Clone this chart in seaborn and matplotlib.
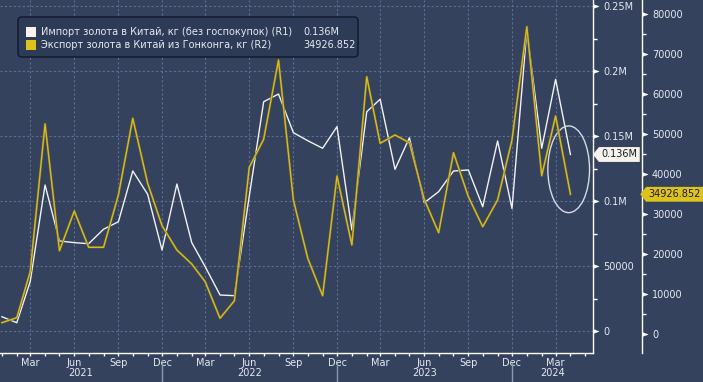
import pandas as pd
import numpy as np
import matplotlib
matplotlib.use("Agg")
import matplotlib.pyplot as plt
import matplotlib.dates as mdates
import matplotlib.ticker as mticker
from matplotlib.patches import Ellipse, FancyBboxPatch, Rectangle
from matplotlib.path import Path
from matplotlib.transforms import IdentityTransform, blended_transform_factory
import matplotlib.patheffects as pe
import seaborn as sns

bg_color = '#34425e'
grid_color = '#5b6e95'
text_color = '#e6e9ef'
white_line = '#f2f2f2'
gold_line = '#d6bc22'

# monthly data, Jan 2021 .. Apr 2024
months = pd.date_range('2021-01-01', '2024-04-01', freq='MS')
imports_kg = [11200, 6600, 38200, 112500, 69500, 68200, 67400, 78500, 84300, 123300, 105400, 62500,
              113300, 68200, 49700, 27900, 27400, 104000, 176600, 182500, 152800, 146600, 140800, 157400,
              77900, 168900, 178500, 124600, 148900, 98900, 107400, 123300, 124100, 95800, 146400, 94500,
              231800, 140800, 193800, 136000]
exports_kg = [2825, 4075, 15575, 52500, 20825, 30750, 21675, 21675, 34750, 53925, 37675, 27075,
              21000, 17500, 13075, 3925, 8325, 41675, 48675, 68500, 33500, 18925, 9575, 39500,
              22250, 64325, 47675, 49750, 47825, 33675, 25325, 45325, 34325, 26825, 33500, 48500,
              76825, 39575, 54500, 34926.852]

series_names = ['Импорт золота в Китай, кг (без госпокупок) (R1)',
                'Экспорт золота в Китай из Гонконга, кг (R2)']
last_labels = ['0.136M', '34926.852']

r1_ticks = [0, 50000, 100000, 150000, 200000, 250000]
r1_labels = ['0', '50000', '0.1M', '0.15M', '0.2M', '0.25M']
r2_ticks = [0, 10000, 20000, 30000, 40000, 50000, 60000, 70000, 80000]
r2_labels = [str(v) for v in r2_ticks]
month_names = ['Jan', 'Feb', 'Mar', 'Apr', 'May', 'Jun', 'Jul', 'Aug', 'Sep', 'Oct', 'Nov', 'Dec']
years = [2021, 2022, 2023, 2024]

df = pd.DataFrame({'date': months, 'imports': imports_kg, 'exports': exports_kg})

plt.rcParams['font.family'] = 'DejaVu Sans'
fig = plt.figure(figsize=(7.03, 3.82), dpi=100, facecolor=bg_color)
ax = fig.add_axes([0, 29 / 382, 593 / 703, 353 / 382])
ax.set_facecolor(bg_color)
ax2 = ax.twinx()

sns.lineplot(data=df, x='date', y='imports', ax=ax, color=white_line, linewidth=1.0, zorder=3)
sns.lineplot(data=df, x='date', y='exports', ax=ax2, color=gold_line, linewidth=1.0, zorder=3,
             path_effects=[pe.Stroke(linewidth=1.7, foreground='#6a6332'), pe.Normal()])

ax.set_xlim(pd.Timestamp('2020-12-28'), pd.Timestamp('2024-05-18'))
ax.set_ylim(-16700, 254850)
ax2.set_ylim(-4750, 83500)
ax.set_xlabel('')
ax.set_ylabel('')
ax2.set_ylabel('')

# spines
for s in ['top', 'left']:
    ax.spines[s].set_visible(False)
for s in ['top', 'left', 'bottom']:
    ax2.spines[s].set_visible(False)
ax.spines['right'].set_color('white')
ax.spines['bottom'].set_color('white')
ax2.spines['right'].set_color('white')
ax2.spines['right'].set_position(('outward', 35.3))
for sp in [ax.spines['right'], ax.spines['bottom'], ax2.spines['right']]:
    sp.set_linewidth(1.0)

# x axis
ax.xaxis.set_major_locator(mdates.MonthLocator(bymonth=[3, 6, 9, 12]))
ax.xaxis.set_minor_locator(mdates.MonthLocator())
ax.xaxis.set_major_formatter(mticker.FuncFormatter(lambda v, p: month_names[mdates.num2date(v).month - 1]))
ax.tick_params(axis='x', which='both', direction='out', length=2.5, width=1, color='white',
               labelcolor=text_color, labelsize=7, pad=0.8)

# y axes on right, arrow-shaped major ticks
arrow_tick = Path([(0, -0.55), (1.5, 0), (0, 0.55), (0, -0.55)], closed=True)
ax.yaxis.tick_right()
ax.yaxis.set_major_locator(mticker.FixedLocator(r1_ticks))
ax.yaxis.set_major_formatter(mticker.FixedFormatter(r1_labels))
ax.yaxis.set_minor_locator(mticker.FixedLocator([25000, 75000, 125000, 175000, 225000]))
ax2.yaxis.set_major_locator(mticker.FixedLocator(r2_ticks))
ax2.yaxis.set_major_formatter(mticker.FixedFormatter(r2_labels))
ax2.yaxis.set_minor_locator(mticker.FixedLocator([5000 + 10000 * i for i in range(8)]))
for a in [ax, ax2]:
    a.tick_params(axis='y', which='major', direction='out', length=5, width=1, color='white',
                  labelcolor=text_color, labelsize=7, pad=2.2)
    a.tick_params(axis='y', which='minor', direction='out', length=3, width=1, color='white')
    for t in a.yaxis.get_major_ticks():
        t.tick2line.set_marker(arrow_tick)
        t.tick2line.set_markersize(8)
        t.tick2line.set_markerfacecolor('white')
        t.tick2line.set_markeredgecolor('white')
        t.tick2line.set_markeredgewidth(0.3)

# grid
ax.grid(axis='x', which='major', color=grid_color, linestyle=(0, (2, 2)), linewidth=0.8)
ax.grid(axis='y', which='major', color=grid_color, linestyle=(0, (2, 2)), linewidth=0.8)
ax.set_axisbelow(True)

# year labels and separators
xl = ax.get_xlim()
trans = blended_transform_factory(ax.transData, ax.transAxes)
seps = [mdates.date2num(pd.Timestamp(f'{y}-12-01')) for y in years[:-1]]
bounds = [xl[0]] + seps + [xl[1]]
for i, y in enumerate(years):
    ax.text((bounds[i] + bounds[i + 1]) / 2, -20 / 353, str(y), transform=trans, ha='center', va='center',
            fontsize=7, color=text_color, clip_on=False)
for s in seps:
    ax.plot([s, s], [-10 / 353, -29 / 353], transform=trans, color='#8d99ae', lw=1, clip_on=False)


# value tags
def tag_box(x0, y0, width, height, mutation_size):
    pad = 0.25 * mutation_size
    x0, y0, w, h = x0 - pad, y0 - pad, width + 2 * pad, height + 2 * pad
    tip = h * 0.4
    verts = [(x0 - tip, y0 + h / 2), (x0, y0 + h), (x0 + w, y0 + h), (x0 + w, y0), (x0, y0),
             (x0 - tip, y0 + h / 2)]
    return Path(verts, closed=True)


ax.annotate(last_labels[0], xy=(1, imports_kg[-1]), xycoords=('axes fraction', 'data'),
            xytext=(6, 0), textcoords='offset points', ha='left', va='center', fontsize=7,
            color='#1b1b1b', bbox=dict(boxstyle=tag_box, fc='#f6f3ee', ec='none'), annotation_clip=False)
ax2.annotate(last_labels[1], xy=(1, exports_kg[-1]), xycoords=('axes fraction', 'data'),
             xytext=(40, 0), textcoords='offset points', ha='left', va='center', fontsize=7,
             color='#1b1b1b', bbox=dict(boxstyle=tag_box, fc='#dcc21a', ec='none'), annotation_clip=False)

# highlight ellipse
ax.add_patch(Ellipse((0.959, 0.5204), 0.0703, 0.2456, transform=ax.transAxes, fill=False,
                     ec='#d5dae4', lw=1, clip_on=False, zorder=5))

# legend box
fig.add_artist(FancyBboxPatch((18, 382 - 57), 340, 40, boxstyle='round,pad=0,rounding_size=4',
                              transform=IdentityTransform(), fc='#2e3b57', ec='#10182a', lw=1))
colors = ['#f7f2f0', '#dcc21a']
rows = [32, 45]
for name, val, c, ry in zip(series_names, last_labels, colors, rows):
    fig.add_artist(Rectangle((26, 382 - ry - 5), 10, 10, transform=IdentityTransform(), fc=c, ec='none'))
    fig.text(41 / 703, 1 - ry / 382, name, ha='left', va='center', fontsize=7, color=text_color)
    fig.text(303 / 703, 1 - ry / 382, val, ha='left', va='center', fontsize=7, color=text_color)

fig.savefig('out.png', dpi=100, facecolor=bg_color)
